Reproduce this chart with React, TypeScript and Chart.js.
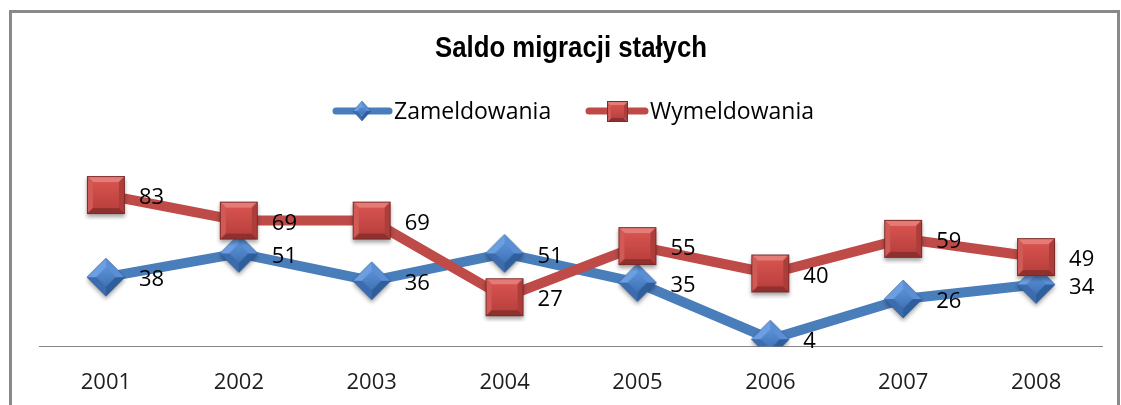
import React, { useEffect, useRef } from 'react';
import { Chart, registerables } from 'chart.js';

Chart.register(...registerables);

const chartTitle = 'Saldo migracji stałych';
const years = ['2001', '2002', '2003', '2004', '2005', '2006', '2007', '2008'];
const seriesNames = ['Zameldowania', 'Wymeldowania'];
const zameldowania = [38, 51, 36, 51, 35, 4, 26, 34];
const wymeldowania = [83, 69, 69, 27, 55, 40, 59, 49];
const yMin = 0;
const yMax = 100;

const BLUE = '#4a7ebb';
const RED = '#be4b48';
const FONT = '"Open Sans", "DejaVu Sans", sans-serif';

function makeSquare(side: number, shadow: boolean): HTMLCanvasElement {
  const pad = 6;
  const c = document.createElement('canvas');
  c.width = side + pad * 2;
  c.height = side + pad * 2;
  const ctx = c.getContext('2d')!;
  const p = pad, s = side, b = Math.max(2, Math.round(s * 0.17));
  if (shadow) {
    ctx.save();
    ctx.shadowColor = 'rgba(0,0,0,0.35)';
    ctx.shadowBlur = 4;
    ctx.shadowOffsetY = 3;
    ctx.fillStyle = '#b84542';
    ctx.fillRect(p, p, s, s);
    ctx.restore();
  }
  const poly = (pts: number[][], col: string | CanvasGradient) => {
    ctx.beginPath();
    ctx.moveTo(pts[0][0], pts[0][1]);
    for (let i = 1; i < pts.length; i++) ctx.lineTo(pts[i][0], pts[i][1]);
    ctx.closePath();
    ctx.fillStyle = col;
    ctx.fill();
  };
  poly([[p, p], [p + s, p], [p + s - b, p + b], [p + b, p + b]], '#e47b77');
  poly([[p, p], [p + b, p + b], [p + b, p + s - b], [p, p + s]], '#d25a56');
  poly([[p + s, p], [p + s, p + s], [p + s - b, p + s - b], [p + s - b, p + b]], '#ad3d3a');
  poly([[p, p + s], [p + s, p + s], [p + s - b, p + s - b], [p + b, p + s - b]], '#8e302d');
  const g = ctx.createLinearGradient(0, p + b, 0, p + s - b);
  g.addColorStop(0, '#d6534f');
  g.addColorStop(1, '#bb413e');
  poly([[p + b, p + b], [p + s - b, p + b], [p + s - b, p + s - b], [p + b, p + s - b]], g);
  ctx.strokeStyle = '#7d2a28';
  ctx.lineWidth = 1;
  ctx.strokeRect(p + 0.5, p + 0.5, s - 1, s - 1);
  return c;
}

function makeDiamond(w: number, h: number, shadow: boolean): HTMLCanvasElement {
  const pad = 6;
  const c = document.createElement('canvas');
  c.width = w + pad * 2;
  c.height = h + pad * 2;
  const ctx = c.getContext('2d')!;
  const cx = c.width / 2, cy = c.height / 2, hw = w / 2, hh = h / 2;
  const T = [cx, cy - hh], R = [cx + hw, cy], B = [cx, cy + hh], L = [cx - hw, cy];
  const k = 0.5;
  const iT = [cx, cy - hh * k], iR = [cx + hw * k, cy], iB = [cx, cy + hh * k], iL = [cx - hw * k, cy];
  const poly = (pts: number[][], col: string | CanvasGradient) => {
    ctx.beginPath();
    ctx.moveTo(pts[0][0], pts[0][1]);
    for (let i = 1; i < pts.length; i++) ctx.lineTo(pts[i][0], pts[i][1]);
    ctx.closePath();
    ctx.fillStyle = col;
    ctx.fill();
  };
  if (shadow) {
    ctx.save();
    ctx.shadowColor = 'rgba(0,0,0,0.35)';
    ctx.shadowBlur = 4;
    ctx.shadowOffsetY = 3;
    poly([T, R, B, L], '#3f70ad');
    ctx.restore();
  }
  poly([T, L, iL, iT], '#6b9fe2');
  poly([T, R, iR, iT], '#5a8fd6');
  poly([B, R, iR, iB], '#2f5e9c');
  poly([B, L, iL, iB], '#3c6cad');
  const g = ctx.createLinearGradient(0, cy - hh * k, 0, cy + hh * k);
  g.addColorStop(0, '#5b90d8');
  g.addColorStop(1, '#3f73b5');
  poly([iT, iR, iB, iL], g);
  ctx.beginPath();
  ctx.moveTo(T[0], T[1]); ctx.lineTo(R[0], R[1]); ctx.lineTo(B[0], B[1]); ctx.lineTo(L[0], L[1]); ctx.closePath();
  ctx.strokeStyle = 'rgba(40,80,140,0.6)';
  ctx.lineWidth = 0.8;
  ctx.stroke();
  return c;
}

export default function App() {
  const ref = useRef<HTMLCanvasElement | null>(null);

  useEffect(() => {
    const canvas = ref.current;
    if (!canvas) return;

    const bigDiamond = makeDiamond(38, 38, true);
    const bigSquare = makeSquare(38, true);
    const smallDiamond = makeDiamond(18, 20, false);
    const smallSquare = makeSquare(21, false);

    const decor = {
      id: 'decor',
      beforeDraw(chart: any) {
        const ctx = chart.ctx;
        ctx.save();
        ctx.fillStyle = '#ffffff';
        ctx.fillRect(0, 0, chart.width, chart.height);
        ctx.restore();
      },
      afterDatasetsDraw(chart: any) {
        const ctx = chart.ctx;
        ctx.save();
        ctx.font = `22px ${FONT}`;
        ctx.fillStyle = '#000000';
        ctx.textAlign = 'left';
        ctx.textBaseline = 'middle';
        chart.data.datasets.forEach((ds: any, i: number) => {
          const meta = chart.getDatasetMeta(i);
          meta.data.forEach((pt: any, j: number) => {
            ctx.fillText(String(ds.data[j]), pt.x + 33, pt.y + 3);
          });
        });
        ctx.restore();
      },
      afterDraw(chart: any) {
        const ctx = chart.ctx;
        ctx.save();
        // frame
        ctx.strokeStyle = '#898989';
        ctx.lineWidth = 3;
        ctx.strokeRect(10.5, 11.5, 1108, 500);
        // title (condensed bold, scaled horizontally to the reference width)
        ctx.fillStyle = '#000000';
        ctx.font = `bold 29px "Liberation Sans", Arial, sans-serif`;
        ctx.textAlign = 'center';
        ctx.textBaseline = 'alphabetic';
        const tw = ctx.measureText(chartTitle).width;
        const sx = tw > 0 ? 272 / tw : 1;
        ctx.save();
        ctx.translate(571, 57);
        ctx.scale(sx, 1);
        ctx.fillText(chartTitle, 0, 0);
        ctx.restore();
        // legend
        const ly = 111;
        const items = [
          { x0: 333, x1: 392, mx: 362, color: BLUE, img: smallDiamond, tx: 394, label: chart.data.datasets[0].label },
          { x0: 586, x1: 648, mx: 617, color: RED, img: smallSquare, tx: 650, label: chart.data.datasets[1].label },
        ];
        ctx.font = `23px ${FONT}`;
        ctx.textAlign = 'left';
        ctx.textBaseline = 'middle';
        items.forEach((it) => {
          ctx.strokeStyle = it.color;
          ctx.lineWidth = 7;
          ctx.lineCap = 'round';
          ctx.beginPath();
          ctx.moveTo(it.x0 + 3, ly);
          ctx.lineTo(it.x1 - 3, ly);
          ctx.stroke();
          ctx.drawImage(it.img, Math.round(it.mx - it.img.width / 2), Math.round(ly - it.img.height / 2));
          ctx.fillStyle = '#000000';
          ctx.fillText(it.label, it.tx, ly + 1);
        });
        ctx.restore();
      },
    };

    const chart = new Chart(canvas, {
      type: 'line',
      data: {
        labels: years,
        datasets: [
          {
            label: seriesNames[0],
            data: zameldowania,
            borderColor: BLUE,
            backgroundColor: BLUE,
            borderWidth: 10,
            borderCapStyle: 'round',
            borderJoinStyle: 'round',
            pointStyle: bigDiamond as any,
            pointRadius: 19,
            pointBorderWidth: 0,
            order: 2,
            tension: 0,
          },
          {
            label: seriesNames[1],
            data: wymeldowania,
            borderColor: RED,
            backgroundColor: RED,
            borderWidth: 10,
            borderCapStyle: 'round',
            borderJoinStyle: 'round',
            pointStyle: bigSquare as any,
            pointRadius: 19,
            pointBorderWidth: 0,
            order: 1,
            tension: 0,
          },
        ],
      },
      options: {
        responsive: false,
        animation: false,
        devicePixelRatio: 1,
        events: [],
        layout: { autoPadding: false, padding: { top: 164, left: 39.5, right: 18.5, bottom: 0 } },
        plugins: {
          legend: { display: false },
          title: { display: false },
          tooltip: { enabled: false },
        },
        scales: {
          x: {
            offset: true,
            grid: { display: false, drawTicks: false },
            border: { display: true, color: '#868686', width: 1 },
            ticks: { font: { family: FONT, size: 22 }, color: '#1e1e1e', padding: 23, maxRotation: 0 },
            afterFit: (s: any) => {
              s.height = 58.5;
              s.paddingLeft = 0;
              s.paddingRight = 0;
            },
          },
          y: { display: false, min: yMin, max: yMax },
        },
      },
      plugins: [decor],
    } as any);

    return () => chart.destroy();
  }, []);

  return (
    <div style={{ position: 'fixed', left: 0, top: 0, width: 1121, height: 405, background: '#fff' }}>
      <canvas ref={ref} width={1121} height={405} style={{ display: 'block', width: 1121, height: 405 }} />
    </div>
  );
}
